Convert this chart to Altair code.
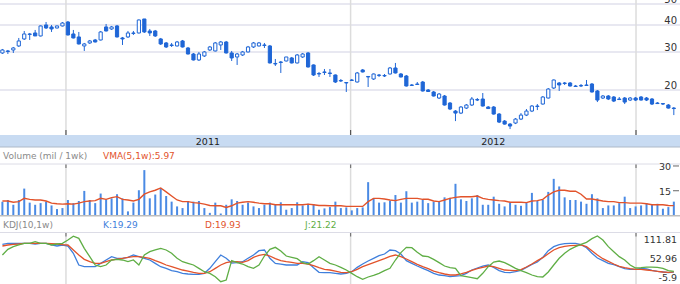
import altair as alt
import pandas as pd
import numpy as np

# ---------------- data (weekly bars) ----------------
start_week = "2010-10-11"
n_weeks = 124

opens = [29.68, 30.32, 30.64, 31.98, 34.46, 36.15, 36.73, 35.58, 40.00, 39.16,
         38.74, 39.58, 41.29, 36.34, 35.20, 31.98, 33.02, 34.09, 34.09, 39.16,
         38.33, 39.58, 34.83, 35.20, 36.54, 36.73, 42.64, 37.52, 37.52, 34.46,
         33.02, 32.32, 31.98, 33.73, 31.30, 29.36, 27.55, 28.75, 30.64, 30.32,
         32.32, 33.37, 29.68, 28.44, 29.05, 30.00, 31.64, 31.98, 32.32, 31.98,
         26.54, 26.96, 27.25, 28.14, 26.68, 28.44, 29.68, 26.12, 23.85, 24.24,
         23.98, 23.47, 22.13, 21.66, 22.13, 21.78, 24.76, 23.10, 22.49, 23.35,
         23.22, 23.72, 25.29, 23.72, 23.22, 20.99, 21.21, 21.78, 20.00, 19.58,
         18.36, 18.76, 17.41, 15.98, 15.64, 16.50, 17.04, 18.07, 18.17, 16.68,
         16.68, 15.48, 14.36, 13.91, 14.06, 14.67, 15.31, 15.98, 16.77, 17.22,
         18.36, 20.43, 21.55, 21.55, 21.55, 20.87, 20.87, 20.99, 21.32, 19.79,
         18.36, 18.76, 18.56, 18.17, 18.36, 17.97, 18.36, 18.56, 18.36, 18.17,
         17.41, 17.31, 17.04, 16.50]
closes = [30.64, 30.16, 31.30, 33.73, 36.34, 36.34, 35.58, 39.58, 38.74, 38.33,
          39.58, 40.85, 35.96, 34.83, 32.67, 32.67, 33.73, 33.37, 37.13, 37.52,
          39.16, 35.20, 34.46, 36.73, 36.73, 42.19, 37.13, 36.73, 35.58, 32.67,
          31.64, 32.15, 33.37, 31.64, 29.36, 27.55, 29.36, 30.00, 31.64, 33.02,
          33.37, 29.68, 28.14, 29.36, 30.00, 31.64, 33.02, 33.02, 32.15, 26.68,
          26.40, 26.82, 28.44, 26.68, 29.05, 29.36, 25.56, 23.47, 23.72, 24.11,
          23.85, 21.78, 22.02, 21.55, 22.25, 23.98, 24.24, 22.98, 23.72, 23.47,
          23.35, 25.29, 23.98, 22.98, 20.87, 21.10, 21.32, 19.79, 19.68, 18.76,
          19.16, 17.04, 16.33, 15.64, 16.68, 17.04, 18.17, 17.97, 16.86, 16.41,
          15.48, 14.21, 13.91, 13.62, 14.67, 15.31, 15.98, 16.86, 16.86, 18.56,
          20.21, 22.25, 21.10, 21.44, 20.87, 20.76, 20.99, 21.10, 19.58, 17.97,
          18.76, 18.17, 17.78, 18.07, 17.59, 18.36, 17.97, 17.97, 17.97, 17.22,
          17.31, 17.22, 16.50, 16.41]
highs = [30.97, 30.64, 31.64, 34.83, 37.52, 36.73, 37.93, 39.79, 41.29, 40.00,
         39.79, 41.29, 41.74, 37.93, 37.13, 33.02, 34.09, 34.46, 37.52, 40.43,
         39.58, 40.00, 35.20, 37.52, 37.52, 42.41, 42.64, 38.33, 37.93, 34.83,
         33.37, 33.02, 33.73, 34.09, 31.64, 29.68, 30.00, 30.32, 31.98, 33.37,
         33.73, 33.73, 30.32, 29.68, 30.32, 31.98, 33.37, 33.37, 33.02, 32.32,
         27.84, 27.25, 28.44, 28.44, 29.36, 29.68, 30.00, 26.26, 24.24, 25.02,
         25.02, 23.60, 22.49, 21.78, 22.49, 24.24, 25.02, 23.22, 23.85, 23.72,
         23.72, 25.56, 26.68, 23.98, 23.47, 21.32, 21.78, 22.02, 20.21, 19.79,
         19.37, 18.96, 17.59, 16.15, 16.86, 17.22, 18.56, 18.36, 19.37, 16.86,
         16.86, 15.64, 14.52, 14.06, 14.83, 15.64, 16.33, 17.04, 17.22, 18.76,
         20.43, 22.37, 21.78, 21.78, 21.78, 21.10, 21.32, 22.25, 21.55, 20.00,
         18.96, 18.96, 18.76, 18.56, 18.56, 18.56, 18.56, 18.76, 18.56, 18.36,
         17.59, 17.41, 17.22, 16.68]
lows = [29.36, 29.36, 29.68, 31.64, 34.09, 34.09, 35.58, 35.39, 38.33, 37.13,
        38.54, 39.37, 35.77, 34.65, 32.50, 30.32, 32.67, 33.20, 33.91, 37.33,
        37.93, 35.01, 32.32, 34.83, 35.96, 36.54, 36.73, 35.58, 35.20, 32.32,
        31.30, 31.64, 31.81, 31.47, 29.20, 27.40, 27.25, 28.44, 30.32, 30.16,
        30.64, 29.52, 27.25, 26.12, 28.75, 29.84, 31.30, 31.81, 31.30, 26.54,
        25.84, 23.98, 27.10, 26.54, 26.54, 28.14, 25.42, 23.22, 22.98, 23.47,
        22.98, 21.55, 21.78, 19.58, 22.02, 21.66, 24.11, 20.65, 22.25, 22.98,
        22.98, 23.60, 23.85, 22.86, 20.76, 20.87, 21.10, 19.68, 19.58, 18.66,
        18.17, 16.95, 16.15, 14.36, 15.48, 16.33, 16.86, 17.78, 16.77, 16.33,
        15.39, 14.06, 13.83, 13.19, 13.91, 14.52, 15.15, 15.81, 16.15, 17.13,
        18.27, 20.21, 19.79, 21.10, 20.76, 20.65, 20.65, 20.87, 19.47, 17.59,
        18.17, 17.97, 17.59, 17.97, 17.22, 17.78, 17.78, 17.88, 17.78, 17.04,
        17.22, 17.04, 16.41, 15.31]
volumes = [8.4, 9.4, 6.5, 9.4, 16.3, 7.8, 6.5, 7.5, 8.4, 6.1,
           3.9, 4.5, 9.4, 7.5, 8.8, 14.9, 9.4, 7.5, 13.3, 9.8,
           10.4, 12.9, 10.4, 2.5, 7.8, 15.3, 27.5, 10.4, 12.7, 16.7,
           11.8, 8.4, 5.5, 4.5, 8.8, 8.4, 8.8, 4.5, 1.6, 7.8,
           1.2, 6.5, 9.8, 8.8, 6.5, 7.8, 5.5, 4.5, 6.5, 7.8,
           6.9, 8.0, 3.5, 4.5, 8.0, 6.1, 7.1, 6.9, 3.5, 4.3,
           5.1, 8.4, 4.5, 4.9, 3.1, 4.5, 4.9, 20.2, 10.4, 7.8,
           8.0, 9.0, 12.4, 7.8, 14.7, 7.8, 8.4, 9.8, 7.5, 8.4,
           8.4, 11.0, 10.7, 19.2, 9.8, 8.8, 10.4, 12.4, 6.5, 6.5,
           11.4, 7.1, 5.5, 7.8, 6.5, 5.9, 7.8, 13.7, 8.8, 9.4,
           14.3, 22.2, 17.6, 11.0, 9.4, 9.4, 8.4, 7.1, 12.9, 10.4,
           4.5, 6.1, 6.1, 7.5, 11.4, 4.5, 5.5, 6.1, 7.5, 6.5,
           7.1, 4.1, 5.1, 8.4]
vma = [8.8, 8.8, 8.0, 8.4, 10.4, 9.8, 9.4, 9.4, 8.8, 7.5,
       7.1, 6.9, 7.1, 6.9, 7.5, 8.4, 8.8, 9.0, 10.4, 9.8,
       10.8, 11.4, 9.8, 9.4, 8.8, 9.8, 12.9, 14.3, 15.3, 16.7,
       14.3, 11.8, 9.4, 8.4, 8.4, 7.8, 7.5, 6.9, 6.1, 5.9,
       5.9, 4.9, 5.9, 7.5, 8.0, 8.4, 8.0, 7.5, 7.1, 7.1,
       6.5, 6.5, 6.5, 6.5, 6.5, 6.5, 6.9, 6.5, 6.1, 6.1,
       5.9, 5.9, 5.9, 5.5, 5.5, 5.5, 5.5, 8.4, 10.4, 10.4,
       10.0, 9.4, 9.0, 9.8, 10.4, 10.4, 10.4, 9.8, 9.8, 8.8,
       8.4, 9.4, 10.4, 11.0, 11.4, 11.4, 11.4, 11.8, 10.4, 9.8,
       9.4, 9.0, 8.8, 8.0, 8.0, 8.0, 7.8, 8.8, 9.0, 9.8,
       12.4, 14.3, 15.3, 15.3, 14.7, 14.7, 12.9, 10.0, 10.0, 9.4,
       8.8, 8.4, 8.4, 7.8, 7.8, 7.5, 7.5, 7.5, 7.1, 6.5,
       6.5, 6.5, 6.1, 5.97]
k_vals = [90.5, 93.0, 93.0, 93.0, 93.0, 93.0, 91.3, 93.0, 93.0, 88.8,
          86.2, 88.8, 86.2, 67.5, 37.6, 33.3, 33.3, 33.3, 41.8, 50.4,
          58.9, 54.7, 54.7, 57.2, 63.2, 58.9, 54.7, 50.4, 41.8, 33.3,
          29.1, 23.1, 20.5, 16.3, 14.6, 13.7, 13.7, 16.3, 29.1, 46.1,
          63.2, 54.7, 42.7, 43.6, 46.1, 54.7, 63.2, 74.3, 76.0, 54.7,
          41.8, 40.1, 37.6, 37.6, 37.6, 46.1, 43.6, 30.8, 18.8, 17.9,
          17.9, 16.3, 14.6, 16.3, 20.5, 31.6, 40.1, 47.8, 54.7, 61.5,
          65.7, 76.0, 74.3, 65.7, 48.7, 41.8, 35.0, 29.1, 23.1, 16.3,
          12.0, 10.3, 7.7, 9.5, 10.3, 16.3, 24.8, 29.9, 35.0, 37.6,
          31.6, 23.1, 18.8, 17.9, 20.5, 23.9, 31.6, 39.3, 45.3, 57.2,
          74.3, 84.5, 89.6, 92.2, 93.0, 93.0, 89.6, 81.9, 67.5, 55.5,
          48.7, 41.8, 38.4, 33.3, 28.2, 26.5, 26.5, 29.1, 27.4, 23.9,
          21.4, 19.7, 17.9, 19.29]
d_vals = [86.2, 88.8, 90.5, 91.3, 93.0, 93.0, 93.0, 93.0, 93.0, 92.2,
          91.3, 89.6, 88.8, 76.0, 63.2, 52.1, 46.1, 41.8, 41.8, 46.1,
          50.4, 52.9, 54.7, 57.2, 58.9, 58.9, 57.2, 54.7, 48.7, 43.6,
          37.6, 33.3, 29.1, 24.8, 22.2, 18.8, 16.3, 16.3, 20.5, 29.1,
          37.6, 43.6, 46.1, 46.1, 44.4, 48.7, 57.2, 62.3, 64.9, 60.6,
          53.8, 48.7, 46.1, 44.4, 41.8, 41.8, 40.1, 35.9, 30.8, 26.5,
          24.8, 22.2, 18.8, 17.9, 20.5, 26.5, 33.3, 38.4, 43.6, 48.7,
          53.8, 59.8, 63.2, 58.9, 52.9, 46.1, 39.3, 33.3, 28.2, 22.2,
          17.9, 14.6, 12.0, 12.0, 14.6, 18.8, 23.9, 28.2, 31.6, 35.0,
          33.3, 29.1, 24.8, 23.9, 23.1, 25.6, 32.4, 40.1, 48.7, 56.3,
          66.6, 76.0, 81.9, 85.4, 87.1, 87.9, 88.8, 84.5, 74.3, 63.2,
          53.8, 47.0, 40.1, 34.2, 30.8, 28.2, 26.5, 26.5, 24.8, 23.1,
          21.4, 19.7, 18.8, 19.93]
j_vals = [63.2, 77.7, 84.5, 88.8, 93.0, 93.0, 97.3, 93.0, 93.0, 88.8,
          91.3, 93.0, 101.6, 111.5, 105.8, 80.2, 58.9, 37.6, 33.3, 37.6,
          50.4, 52.1, 50.4, 46.1, 50.4, 37.6, 63.2, 71.7, 76.0, 80.2,
          76.0, 67.5, 54.7, 46.1, 41.8, 37.6, 29.1, 20.5, 16.3, 7.7,
          -5.0, -0.8, 48.7, 43.6, 40.1, 33.3, 29.1, 37.6, 60.6, 77.7,
          82.8, 73.4, 60.6, 57.2, 53.8, 43.6, 40.1, 48.7, 58.9, 50.4,
          41.8, 37.6, 31.6, 24.8, 16.3, 7.7, 0.9, 6.9, 11.2, 16.3,
          23.1, 29.1, 50.4, 69.2, 82.8, 81.9, 70.0, 60.6, 58.9, 52.1,
          43.6, 35.0, 30.8, 29.1, 10.3, 7.7, 5.1, 2.6, 16.3, 33.3,
          45.3, 47.8, 43.6, 36.7, 29.1, 23.1, 17.9, 12.0, 7.7, 6.9,
          19.7, 37.6, 54.7, 67.5, 77.7, 84.5, 90.5, 95.6, 105.0, 111.81,
          101.6, 84.5, 71.7, 58.9, 50.4, 37.6, 29.9, 30.8, 32.4, 32.4,
          31.6, 29.1, 23.1, 21.22]

price_ticks = [20, 30, 40, 50]
vol_ticks = [15, 30]
year_starts = ["2011-01-01T00:00:00", "2012-01-01T00:00:00", "2013-01-01T00:00:00"]
year_labels = ["2011", "2012"]
year_label_dates = ["2011-07-02T00:00:00", "2012-07-02T00:00:00"]

# ---------------- build tables ----------------
dates = pd.date_range(start_week, periods=n_weeks, freq="7D")
df = pd.DataFrame({
    "date": dates.strftime("%Y-%m-%dT12:00:00"),
    "open": opens, "close": closes, "high": highs, "low": lows,
    "vol": volumes, "vma": vma, "K": k_vals, "D": d_vals, "J": j_vals,
})
df["dir"] = np.where(df["close"] >= df["open"], "up", "down")

FONT = "DejaVu Sans"
BLUE = "#1f66d6"
RED = "#e2532b"
GREEN = "#5fae45"
KBLUE = "#3f7fdc"

xdom = [alt.DateTime(year=2010, month=10, date=8, hours=10),
        alt.DateTime(year=2013, month=2, date=26, hours=10)]
xscale = alt.Scale(domain=xdom, nice=False, padding=0)
X = alt.X("date:T", scale=xscale, axis=None)

price_scale = alt.Scale(type="log", domain=[12.38, 52.2], range=[135, 0], nice=False, padding=0)
vol_scale = alt.Scale(domain=[0, 31.2], range=[215.5, 164], nice=False, zero=True, padding=0)
kdj_scale = alt.Scale(domain=[-5.9, 111.81], range=[282, 236], nice=False, zero=False, padding=0)

one = pd.DataFrame({"a": [1]})


def hline(y, color, width=1.0):
    return alt.Chart(one).mark_rule(color=color, strokeWidth=width).encode(
        x=alt.value(0), x2=alt.value(680), y=alt.value(y))


def label(text, x, y, color, align="left", size=9):
    return alt.Chart(pd.DataFrame({"t": [text]})).mark_text(
        align=align, baseline="middle", font=FONT, fontSize=size, color=color
    ).encode(x=alt.value(x), y=alt.value(y), text="t:N")


yr = pd.DataFrame({"date": year_starts})


def vgrid(y0, y1, color="#dcdcdc", width=1.5):
    return alt.Chart(yr).mark_rule(color=color, strokeWidth=width).encode(
        x=X, y=alt.value(y0), y2=alt.value(y1))


# price gridlines
pg = alt.Chart(pd.DataFrame({"p": price_ticks})).mark_rule(
    color="#e1e1ec", strokeWidth=1.5).encode(
    x=alt.value(0), x2=alt.value(680), y=alt.Y("p:Q", scale=price_scale, axis=None))
plab = alt.Chart(pd.DataFrame({"p": price_ticks, "t": [str(v) for v in price_ticks]})).mark_text(
    align="right", baseline="alphabetic", font=FONT, fontSize=10, color="#333", dy=-1).encode(
    x=alt.value(677), y=alt.Y("p:Q", scale=price_scale, axis=None), text="t:N")

wicks = alt.Chart(df).mark_rule(color=BLUE, strokeWidth=1).encode(
    x=X, y=alt.Y("low:Q", scale=price_scale, axis=None), y2="high:Q")
bodies = alt.Chart(df).mark_bar(size=3.2, stroke=BLUE, strokeWidth=1).encode(
    x=X, y=alt.Y("open:Q", scale=price_scale, axis=None), y2="close:Q",
    fill=alt.Fill("dir:N", scale=alt.Scale(domain=["up", "down"], range=["white", BLUE]), legend=None))

band = alt.Chart(one).mark_rect(color="#c8dbf2").encode(
    x=alt.value(0), x2=alt.value(680), y=alt.value(135), y2=alt.value(147))
ylab = alt.Chart(pd.DataFrame({"date": year_label_dates, "t": year_labels})).mark_text(
    align="center", baseline="middle", font=FONT, fontSize=9.5, color="#222").encode(
    x=X, y=alt.value(141.5), text="t:N")

vbars = alt.Chart(df).mark_bar(size=2, color="#4a8ae4").encode(
    x=X, y=alt.Y("vol:Q", scale=vol_scale, axis=None))
vline = alt.Chart(df).mark_line(color=RED, strokeWidth=1.4).encode(
    x=X, y=alt.Y("vma:Q", scale=vol_scale, axis=None))
vtick = alt.Chart(pd.DataFrame({"v": vol_ticks})).mark_rule(color="#666", strokeWidth=1).encode(
    x=alt.value(673), x2=alt.value(679), y=alt.Y("v:Q", scale=vol_scale, axis=None))
vlab = alt.Chart(pd.DataFrame({"v": vol_ticks, "t": [str(v) for v in vol_ticks]})).mark_text(
    align="right", baseline="middle", font=FONT, fontSize=9.5, color="#333", dy=1.5).encode(
    x=alt.value(671), y=alt.Y("v:Q", scale=vol_scale, axis=None), text="t:N")

kdj_long = df.melt(id_vars=["date"], value_vars=["K", "D", "J"], var_name="s", value_name="v")
klines = alt.Chart(kdj_long).mark_line(strokeWidth=1.3).encode(
    x=X, y=alt.Y("v:Q", scale=kdj_scale, axis=None),
    color=alt.Color("s:N", scale=alt.Scale(domain=["K", "D", "J"], range=[KBLUE, RED, GREEN]), legend=None),
    order=alt.Order("date:T"))

kl1 = label("111.81", 677, 240, "#333", "right", 9.5)
kl2 = label("52.96", 677, 259.3, "#333", "right", 9.5)
kl3 = label("-5.9", 677, 278.3, "#333", "right", 9.5)

chart = alt.layer(
    pg, vgrid(0, 135), vgrid(164, 215.5), vgrid(232.5, 284),
    vgrid(130, 135, "#555", 1.2), vgrid(164, 168, "#777", 1.2), vgrid(232.5, 236.5, "#777", 1.2),
    band, hline(147, "#aeb9c8"), hline(164, "#dcdce6"), hline(232.5, "#dcdce6"),
    ylab, plab,
    wicks, bodies,
    vbars, vline, hline(215.8, "#bdbdbd", 1.5), vtick, vlab,
    klines, kl1, kl2, kl3,
    label("Volume (mil / 1wk)", 3, 156, "#8a8a8a"),
    label("VMA(5,1w):5.97", 103, 156, RED),
    label("KDJ(10,1w)", 3, 224.5, "#8a8a8a"),
    label("K:19.29", 103, 224.5, KBLUE),
    label("D:19.93", 205, 224.5, RED),
    label("J:21.22", 305, 224.5, GREEN),
).resolve_scale(y="independent", fill="independent", color="independent").properties(
    width=680, height=284, padding=0, autosize=alt.AutoSizeParams(type="none"),
    background="white"
).configure_view(stroke=None).configure_scale(continuousPadding=0)

chart.save("out.html", embed_options={"renderer": "svg", "actions": False})
